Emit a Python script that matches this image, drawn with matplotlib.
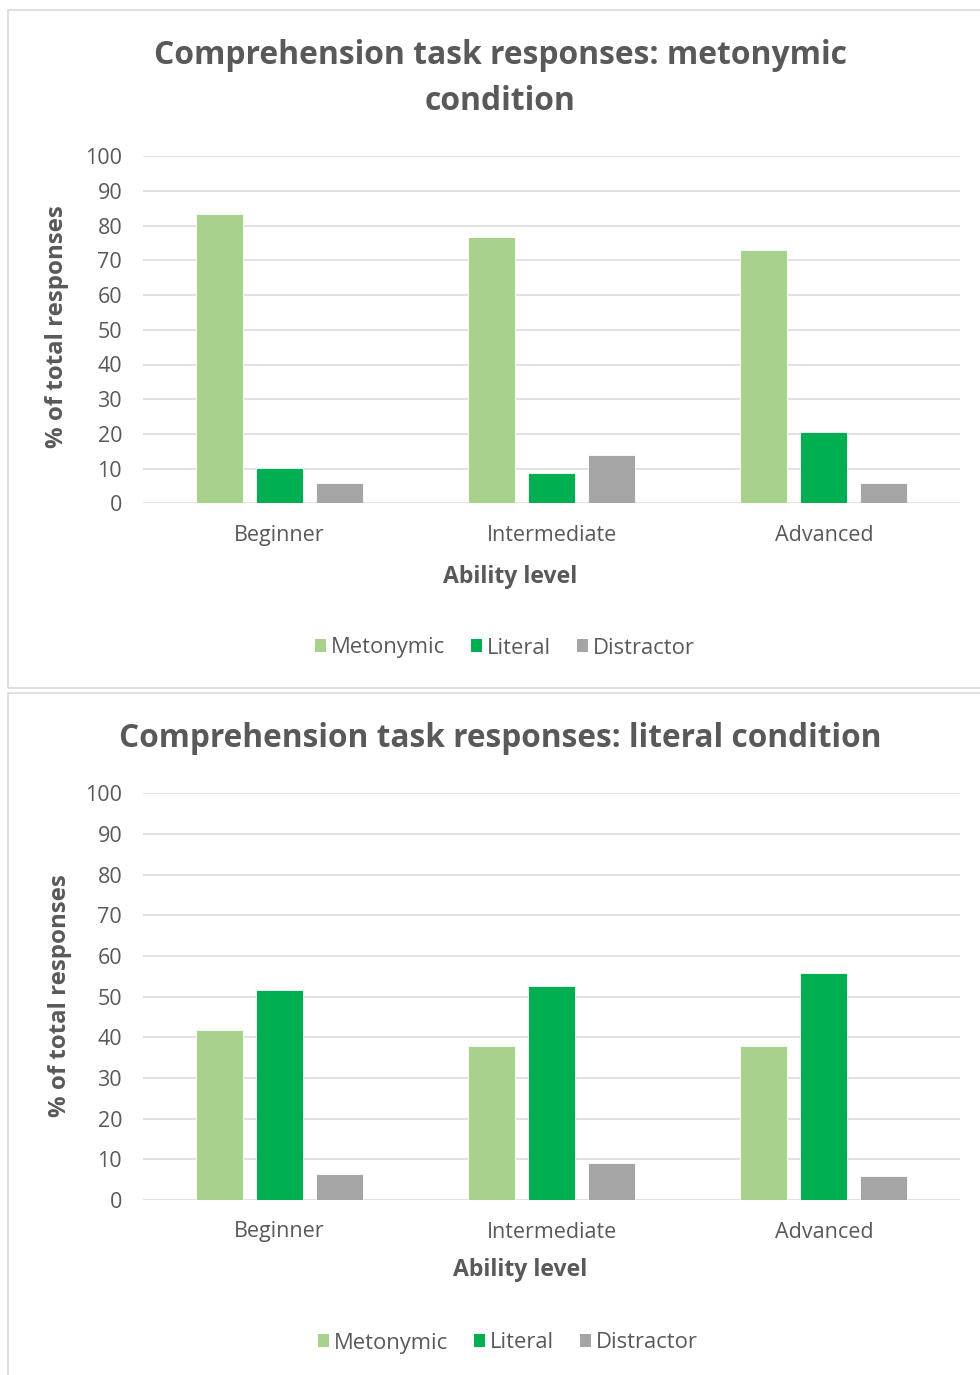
import matplotlib
matplotlib.use("Agg")
import matplotlib.pyplot as plt
from matplotlib.patches import Rectangle, Patch
import numpy as np

# Data
levels = ["Beginner", "Intermediate", "Advanced"]
series = ["Metonymic", "Literal", "Distractor"]
colors = ["#A9D18E", "#00B050", "#A5A5A5"]

metonymic_cond = {
    "Metonymic": [83.4, 76.6, 72.9],
    "Literal": [10.1, 8.8, 20.5],
    "Distractor": [5.8, 13.8, 5.8],
}
literal_cond = {
    "Metonymic": [41.7, 37.9, 37.9],
    "Literal": [51.6, 52.7, 55.9],
    "Distractor": [6.4, 9.1, 5.9],
}
y_ticks = list(range(0, 101, 10))

W, H = 980, 1375
TEXT = "#595959"
GRID = "#D9D9D9"
FONT = "Open Sans"

plt.rcParams["font.family"] = [FONT, "DejaVu Sans"]

fig = plt.figure(figsize=(W / 100, H / 100), dpi=100)


def fx(px):
    return px / W


def fy(py):
    return 1 - py / H


def pt(px):
    return px * 72 / 100


# Panel frames
for (x0, y0, x1, y1) in [(8, 10, 990, 688), (8, 693, 990, 1385)]:
    fig.patches.append(Rectangle((fx(x0), fy(y1)), fx(x1 - x0), fy(y0) - fy(y1),
                                 transform=fig.transFigure, fill=False,
                                 edgecolor=GRID, linewidth=1.2, zorder=0))


def panel(data, ax_box, title_lines, title_y, title_px, ylab_xy, cat_y, xlab_xy, leg_xy):
    left, top, right, bottom = ax_box
    ax = fig.add_axes([fx(left), fy(bottom), fx(right - left), fy(top) - fy(bottom)])
    x = np.arange(len(levels))
    width = 0.172
    step = 0.22
    for i, s in enumerate(series):
        ax.bar(x + (i - 1) * step, data[s], width=width, color=colors[i],
               edgecolor="white", linewidth=0.6, zorder=3)
    ax.set_xlim(-0.5, 2.5)
    ax.set_ylim(0, 100)
    ax.set_yticks(y_ticks)
    ax.set_yticklabels([str(v) for v in y_ticks], fontsize=pt(21.5), color=TEXT)
    ax.tick_params(axis="y", length=0, pad=15)
    ax.set_xticks([])
    ax.grid(axis="y", color=GRID, linewidth=1.1, zorder=0)
    for sp in ["top", "right", "left", "bottom"]:
        ax.spines[sp].set_visible(False)
    ax.set_facecolor("none")

    for i, t in enumerate(title_lines):
        fig.text(fx(500), fy(title_y[i]), t, ha="center", va="center",
                 fontsize=pt(title_px), fontweight="bold", color=TEXT)
    fig.text(fx(ylab_xy[0]), fy(ylab_xy[1]), "% of total responses", rotation=90,
             ha="center", va="center", fontsize=pt(24), fontweight="bold", color=TEXT)
    for i, lv in enumerate(levels):
        xd = ax.transData.transform((i, 0))[0]
        fig.text(xd / fig.dpi / fig.get_figwidth(), fy(cat_y), lv, ha="center", va="center",
                 fontsize=pt(21.5), color=TEXT)
    fig.text(fx(xlab_xy[0]), fy(xlab_xy[1]), "Ability level", ha="center", va="center",
             fontsize=pt(23), fontweight="bold", color=TEXT)
    handles = [Patch(facecolor=c, edgecolor="none", label=s) for s, c in zip(series, colors)]
    fig.legend(handles=handles, loc="center", bbox_to_anchor=(fx(leg_xy[0]), fy(leg_xy[1])),
               ncol=3, frameon=False, fontsize=pt(22), labelcolor=TEXT,
               handlelength=0.5, handleheight=0.5, handletextpad=0.2,
               columnspacing=1.2)
    return ax


panel(metonymic_cond, (143, 156.3, 960, 503.3),
      ["Comprehension task responses: metonymic", "condition"], [55, 102], 31.9,
      (57, 327), 535, (510, 577), (505, 648))
panel(literal_cond, (143, 793.3, 960, 1200),
      ["Comprehension task responses: literal condition"], [739], 31.7,
      (60, 996), 1232, (520, 1270), (508, 1343))

fig.savefig("out.png", dpi=100, facecolor="white")
